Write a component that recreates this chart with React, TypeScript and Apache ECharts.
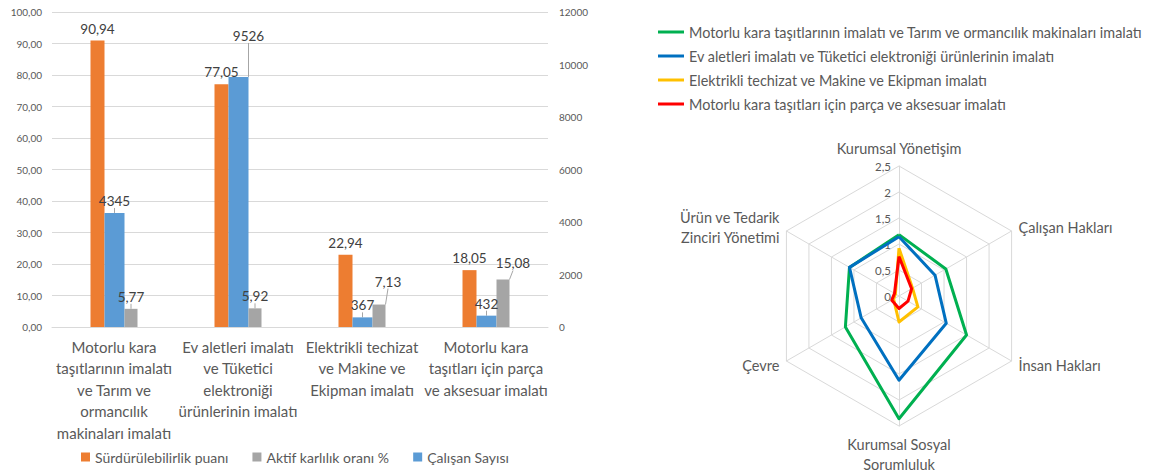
import React, { useEffect, useRef } from 'react';
import * as echarts from 'echarts';

const barCategories = [
  'Motorlu kara\ntaşıtlarının imalatı\nve Tarım ve\normancılık\nmakinaları imalatı',
  'Ev aletleri imalatı\nve Tüketici\nelektroniği\nürünlerinin imalatı',
  'Elektrikli techizat\nve Makine ve\nEkipman imalatı',
  'Motorlu kara\ntaşıtları için parça\nve aksesuar imalatı',
];
const sustainabilityScore = [90.94, 77.05, 22.94, 18.05];
const returnOnAssets = [5.77, 5.92, 7.13, 15.08];
const employeeCount = [4345, 9526, 367, 432];
const leftTicks = { min: 0, max: 100, interval: 10 };
const rightTicks = { min: 0, max: 12000, interval: 2000 };

// radar indicators in clockwise order starting from the top
const radarIndicators = [
  'Kurumsal Yönetişim',
  'Çalışan Hakları',
  'İnsan Hakları',
  'Kurumsal Sosyal\nSorumluluk',
  'Çevre',
  'Ürün ve Tedarik\nZinciri Yönetimi',
];
const radarSeriesNames = [
  'Motorlu kara taşıtlarının imalatı ve Tarım ve ormancılık makinaları imalatı',
  'Ev aletleri imalatı ve Tüketici elektroniği ürünlerinin imalatı',
  'Elektrikli techizat ve Makine ve Ekipman imalatı',
  'Motorlu kara taşıtları için parça ve aksesuar imalatı',
];
const radarMotorVehicles = [1.18, 1.04, 1.5, 2.36, 1.19, 1.1];
const radarHomeAppliances = [1.14, 0.8, 1.05, 1.62, 0.84, 1.1];
const radarElectrical = [0.92, 0.3, 0.42, 0.5, 0.12, 0.08];
const radarParts = [0.76, 0.28, 0.2, 0.24, 0.16, 0.1];
const radarTicks = { min: 0, max: 2.5, splitNumber: 5 };

const FONT = 'Lato';
const radarColors = ['#00B050', '#0070C0', '#FFC000', '#FF0000'];

// ECharts radar runs counter-clockwise; reorder from clockwise lists
const ecOrder = [0, 5, 4, 3, 2, 1];

const fmt2 = (v: number) => v.toFixed(2).replace('.', ',');

export default function App() {
  const ref = useRef<HTMLDivElement>(null);
  useEffect(() => {
    if (!ref.current) return;
    const chart = echarts.init(ref.current, undefined, { renderer: 'svg' });
    const labelShift: Record<string, { dx: number; dy: number }> = {
      '1-1': { dx: 10, dy: -29 },
      '2-2': { dx: 9, dy: -11 },
      '2-3': { dx: 10, dy: -4 },
    };
    const labelBase = {
      show: true,
      position: 'top' as const,
      color: '#404040',
      fontSize: 13.5,
      fontFamily: FONT,
    };
    const radarValues = [radarMotorVehicles, radarHomeAppliances, radarElectrical, radarParts];
    chart.setOption({
      animation: false,
      textStyle: { fontFamily: FONT },
      grid: { left: 52, right: 615, top: 12, bottom: 148 },
      legend: [
        {
          data: ['Sürdürülebilirlik puanı', 'Aktif karlılık oranı %', 'Çalışan Sayısı'],
          left: 76,
          top: 445,
          icon: 'rect',
          itemWidth: 9,
          itemHeight: 9,
          itemGap: 24,
          textStyle: { color: '#595959', fontSize: 14, fontFamily: FONT },
        },
        {
          data: radarSeriesNames,
          orient: 'vertical',
          left: 653,
          top: 19,
          icon: 'rect',
          itemWidth: 26,
          itemHeight: 3,
          itemGap: 8,
          textStyle: { color: '#595959', fontSize: 14.4, fontFamily: FONT, lineHeight: 16 },
        },
      ],
      xAxis: {
        type: 'category',
        data: barCategories,
        axisTick: { show: false },
        axisLine: { lineStyle: { color: '#D9D9D9' } },
        axisLabel: {
          interval: 0,
          color: '#595959',
          fontSize: 15,
          lineHeight: 21.5,
          margin: 9,
          fontFamily: FONT,
        },
      },
      yAxis: [
        {
          type: 'value',
          ...leftTicks,
          axisLabel: { color: '#595959', fontSize: 10, margin: 10, formatter: (v: number) => fmt2(v), fontFamily: FONT },
          splitLine: { lineStyle: { color: '#D9D9D9' } },
          axisLine: { show: false },
          axisTick: { show: false },
        },
        {
          type: 'value',
          ...rightTicks,
          axisLabel: { color: '#595959', fontSize: 10, margin: 11, formatter: (v: number) => String(v), fontFamily: FONT },
          splitLine: { show: false },
          axisLine: { show: false },
          axisTick: { show: false },
        },
      ],
      radar: {
        center: [899, 296],
        radius: 130,
        startAngle: 90,
        splitNumber: radarTicks.splitNumber,
        shape: 'polygon',
        nameGap: 8,
        axisName: { color: '#595959', fontSize: 14.5, fontFamily: FONT, lineHeight: 20 },
        splitLine: { lineStyle: { color: '#D9D9D9' } },
        splitArea: { show: false },
        axisLine: { lineStyle: { color: '#D9D9D9' } },
        axisLabel: { show: false },
        indicator: ecOrder.map((i, k) => ({
          name: radarIndicators[i],
          min: radarTicks.min,
          max: radarTicks.max,
          ...(k === 0
            ? {
                axisLabel: {
                  show: true,
                  color: '#595959',
                  fontSize: 11.5,
                  fontFamily: FONT,
                  formatter: (v: number) => String(Math.round(v * 10) / 10).replace('.', ','),
                },
              }
            : {}),
        })),
      },
      series: [
        {
          name: 'Sürdürülebilirlik puanı',
          type: 'bar',
          data: sustainabilityScore,
          barWidth: 14,
          barGap: '0%',
          itemStyle: { color: '#ED7D31' },
          label: { ...labelBase, formatter: (p: any) => fmt2(p.value) },
        },
        {
          name: 'Çalışan Sayısı',
          type: 'bar',
          yAxisIndex: 1,
          data: employeeCount,
          barWidth: 20,
          barGap: '0%',
          itemStyle: { color: '#5B9BD5' },
          label: { ...labelBase, formatter: (p: any) => String(p.value) },
          labelLine: { show: true, lineStyle: { color: '#A6A6A6', width: 1 } },
          labelLayout: (p: any) => labelShift['1-' + p.dataIndex] || {},
        },
        {
          name: 'Aktif karlılık oranı %',
          type: 'bar',
          data: returnOnAssets,
          barWidth: 13,
          barGap: '0%',
          itemStyle: { color: '#A5A5A5' },
          label: { ...labelBase, formatter: (p: any) => fmt2(p.value) },
          labelLine: { show: true, lineStyle: { color: '#A6A6A6', width: 1 } },
          labelLayout: (p: any) => labelShift['2-' + p.dataIndex] || {},
        },
        {
          type: 'radar',
          symbol: 'none',
          data: radarValues.map((vals, s) => ({
            name: radarSeriesNames[s],
            value: ecOrder.map((i) => vals[i]),
            lineStyle: { color: radarColors[s], width: 3 },
            itemStyle: { color: radarColors[s] },
          })),
        },
      ],
    });
    return () => chart.dispose();
  }, []);
  return (
    <div
      ref={ref}
      style={{ position: 'fixed', left: 0, top: 0, width: 1163, height: 475, background: '#fff' }}
    />
  );
}
